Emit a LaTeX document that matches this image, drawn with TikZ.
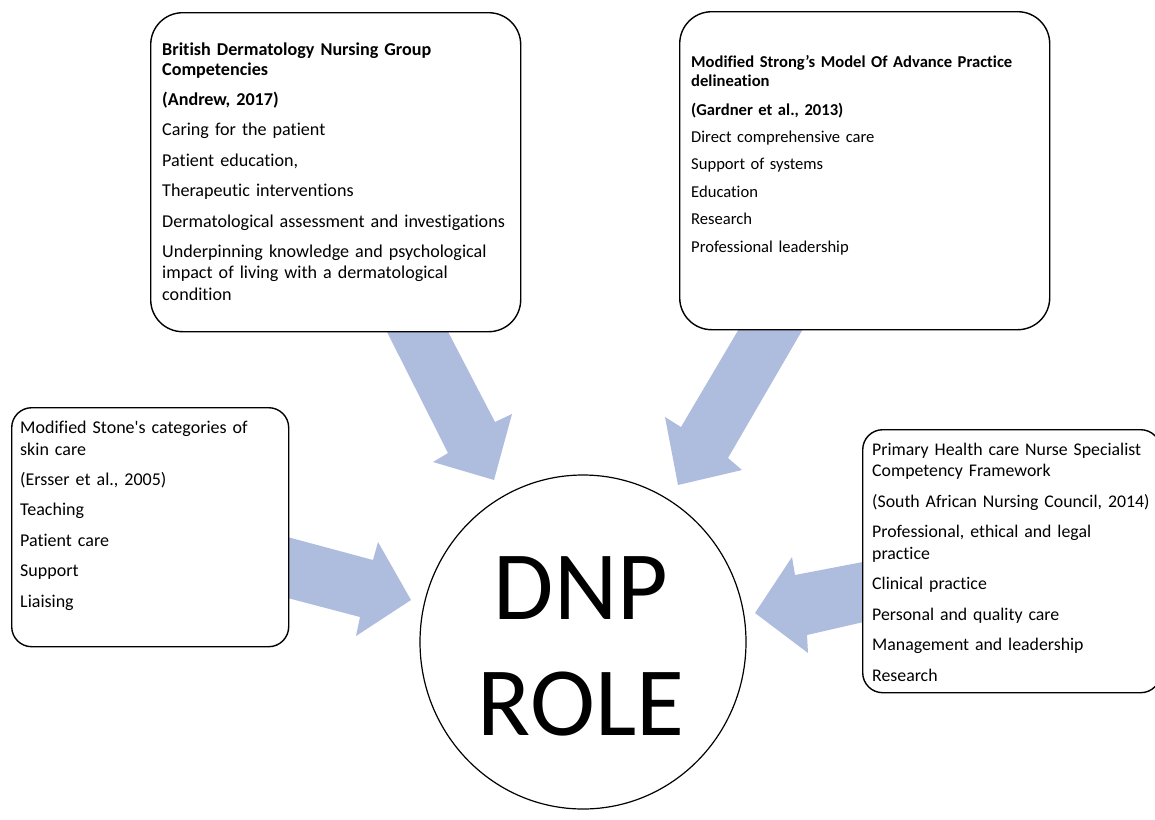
\documentclass[tikz,border=0pt]{standalone}
\usepackage{fontspec}
\setmainfont{Carlito}[Ligatures={NoCommon}]
\usetikzlibrary{shapes.geometric}
\definecolor{arrowblue}{RGB}{174,188,222}
\begin{document}
\begin{tikzpicture}[x=1pt,y=-1pt,
  fatarrow/.style={fill=arrowblue, draw=none},
  card/.style={draw=black, line width=1.4pt, fill=white, inner sep=0pt, anchor=north west},
  cardtext/.style={inner sep=0pt, anchor=base west, align=left, text width=#1},
  bigfont/.style={font=\fontsize{18.1}{21.5}\selectfont},
  smallfont/.style={font=\fontsize{16.6}{19.5}\selectfont},
]
\useasboundingbox (0,0) rectangle (1155,819);

% block arrows
\fill[fatarrow] (383,324) -- (444,324) -- (495,422) -- (512,414) -- (494,480) -- (433,462) -- (448,453) -- cycle;
\fill[fatarrow] (743,322) -- (807,322) -- (728,458) -- (742,470) -- (678,485) -- (665,417) -- (681,427) -- cycle;
\fill[fatarrow] (280,535) -- (373,560) -- (378,542) -- (411,600) -- (356,636) -- (360,617) -- (280,596) -- cycle;
\fill[fatarrow] (868,561) -- (795,575) -- (792,557) -- (755,613) -- (808,653) -- (807,635) -- (868,621) -- cycle;

% boxes
\node[card, rounded corners=32pt, minimum width=370pt, minimum height=319pt] (b1) at (150,12) {};
\node[card, rounded corners=32pt, minimum width=370pt, minimum height=318pt] (b2) at (679,11) {};
\node[card, rounded corners=20pt, minimum width=277pt, minimum height=239pt] (b3) at (11,407) {};
\node[card, rounded corners=20pt, minimum width=298pt, minimum height=263pt] (b4) at (862,429) {};

% circle
\node[draw=black, line width=1.2pt, fill=white, ellipse, minimum width=326pt, minimum height=334pt, inner sep=0pt] (dnp) at (583,642) {};
\node[inner sep=0pt, align=center, font=\fontsize{98}{116}\selectfont] (dnptxt) at (581,646) {DNP\\ROLE};

% texts
\node[cardtext=420pt, bigfont] (b1t) at (162,55) {%
{\bfseries British Dermatology Nursing Group\\[-1.5pt]
Competencies\\[8.9pt]
(Andrew, 2017)}\\[8.9pt]
Caring for the patient\\[8.9pt]
Patient education,\\[8.9pt]
Therapeutic interventions\\[8.9pt]
Dermatological assessment and investigations\\[8.9pt]
Underpinning knowledge and psychological\\
impact of living with a dermatological\\
condition};

\node[cardtext=420pt, smallfont] (b2t) at (691,67) {%
{\bfseries Modified Strong’s Model Of Advance Practice\\
delineation\\[9pt]
(Gardner et al., 2013)}\\[7.9pt]
Direct comprehensive care\\[7.9pt]
Support of systems\\[7.9pt]
Education\\[7.9pt]
Research\\[7.9pt]
Professional leadership};

\node[cardtext=420pt, font=\fontsize{18.0}{22}\selectfont] (b3t) at (20,433) {%
Modified Stone\textquotesingle s categories of\\
skin care\\[8.4pt]
(Ersser et al., 2005)\\[8.4pt]
Teaching\\[8.4pt]
Patient care\\[8.4pt]
Support\\[8.4pt]
Liaising};

\node[cardtext=420pt, font=\fontsize{17.8}{21.5}\selectfont] (b4t) at (872,455) {%
Primary Health care Nurse Specialist\\
Competency Framework\\[9pt]
(South African Nursing Council, 2014)\\[9pt]
Professional, ethical and legal\\
practice\\[9pt]
Clinical practice\\[9pt]
Personal and quality care\\[9pt]
Management and leadership\\[9pt]
Research};
\end{tikzpicture}
\end{document}
